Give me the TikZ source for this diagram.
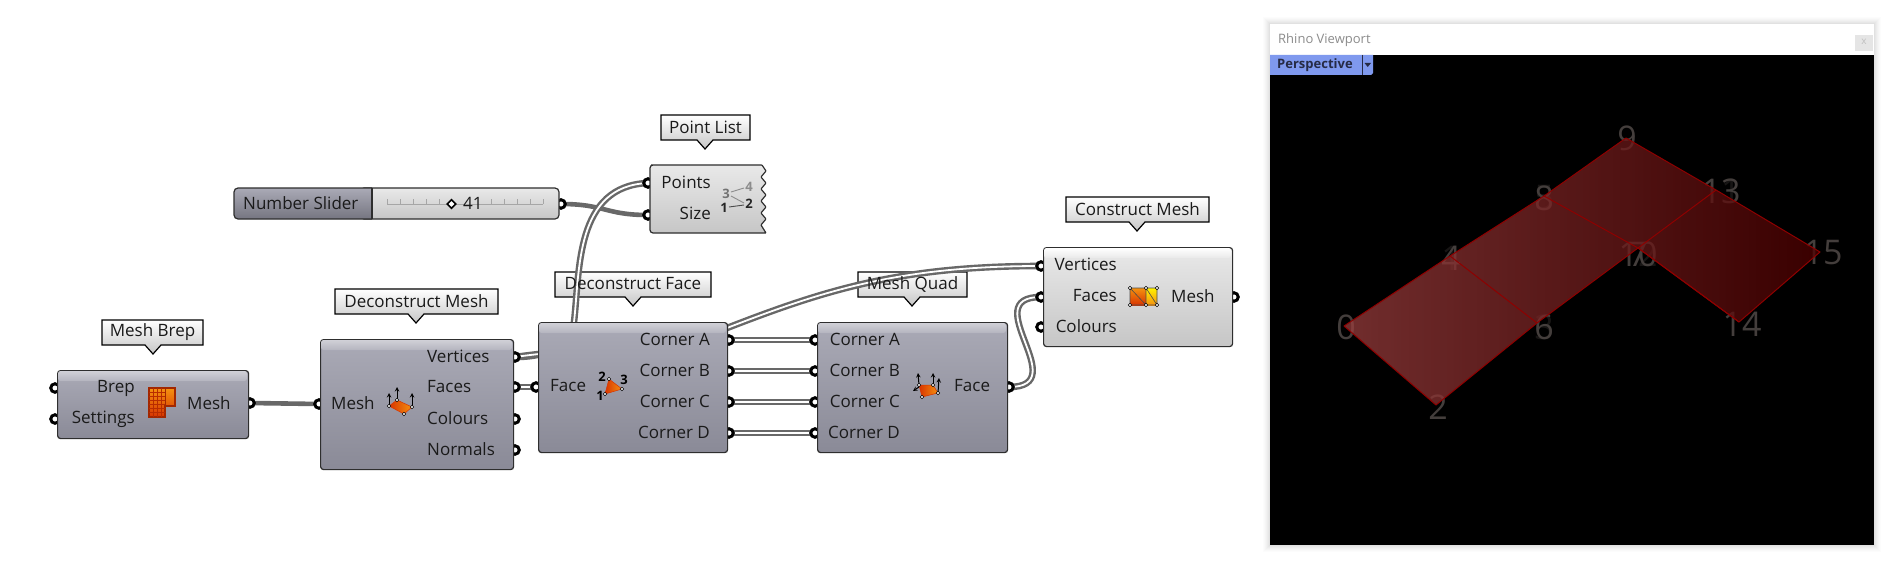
\documentclass[tikz,border=0pt]{standalone}
\usepackage{fontspec}
\setmainfont{Open Sans}
\usetikzlibrary{shapes.geometric}
\definecolor{wirec}{HTML}{686868}
\definecolor{edgec}{HTML}{2E2E2E}
\definecolor{tagtxt}{HTML}{1A1A1A}
\definecolor{A1}{HTML}{AAAAB6}
\definecolor{A2}{HTML}{8A8A97}
\definecolor{B1}{HTML}{E9E9E9}
\definecolor{B2}{HTML}{C6C6C6}
\definecolor{numc}{HTML}{443E3C}
\definecolor{iconA}{HTML}{F59210}
\definecolor{iconB}{HTML}{D83400}
\definecolor{tabc}{HTML}{7F99EE}
\definecolor{tabt}{HTML}{262B45}
\definecolor{meshA}{HTML}{9D3F3F}
\definecolor{meshB}{HTML}{500000}
\definecolor{meshE}{HTML}{8E0000}
\tikzset{
 x=1pt,y=-1pt,
 wirelist/.style={draw=wirec,line width=2.4pt,double=white,double distance=1.8pt},
 wireitem/.style={draw=wirec,line width=4.6pt},
 portc/.style={circle,draw=black,fill=white,line width=3pt,minimum size=8.5pt,inner sep=0pt},
 lab/.style={font=\fontsize{17}{17}\selectfont,text=tagtxt,inner sep=0pt},
 labr/.style={lab,anchor=east},
 labl/.style={lab,anchor=west},
 dark/.style={top color=A1,bottom color=A2},
 light/.style={top color=B1,bottom color=B2},
 body/.style={rectangle,rounded corners=3pt,draw=edgec,line width=1.2pt,inner sep=0pt,anchor=north west},
 vert/.style={circle,draw=black,fill=white,line width=.5pt,inner sep=0pt,minimum size=3.4pt},
 num/.style={font=\fontsize{34}{34}\selectfont,text=numc,inner sep=0pt},
 numunder/.style={num,text opacity=.35},
 icontxt/.style={font=\bfseries\fontsize{13}{13}\selectfont,inner sep=0pt},
}
% tag background: x1 x2 y1 y2 tip-x
\newcommand{\tagshape}[5]{%
 \path[draw=black,line width=1.2pt,top color=white,bottom color=B1!85!black]
  (#1,#3) -- (#2,#3) -- (#2,#4) -- (#5+8,#4) -- (#5,#4+9) -- (#5-8,#4) -- (#1,#4) -- cycle;}
% component body: x1 x2 y1 y2 name style
\newcommand{\compbox}[6]{%
 \pgfmathsetmacro{\wdt}{#2-#1}\pgfmathsetmacro{\hgt}{#4-#3}%
 \node[body,#6,minimum width=\wdt pt,minimum height=\hgt pt] (#5) at (#1,#3) {};}
\newcommand{\compband}[4]{%
 \path[top color=#4!55!white,bottom color=#4!88!white,rounded corners=2.5pt]
  (#1+1,#3+11) -- (#1+1,#3+1) -- (#2-1,#3+1) -- (#2-1,#3+11) -- cycle;}
\begin{document}
\begin{tikzpicture}
\useasboundingbox (0,0) rectangle (1890,575);
\fill[white] (0,0) rectangle (1890,575);

% tags
\tagshape{102}{203}{320}{345}{153}
\tagshape{335}{498}{289}{314}{416}
\tagshape{555}{711}{272}{297}{633}
\tagshape{858}{967}{272}{297}{912}
\tagshape{1066}{1209}{197}{222}{1137}
\tagshape{661}{750}{115}{140}{705}

% port anchors
\coordinate (brepOut) at (250,403);
\coordinate (dmIn) at (319,404);
\coordinate (dmV) at (515,357);
\coordinate (dmF) at (515,387);
\coordinate (dfIn) at (536,387);
\coordinate (dfA) at (729,340);
\coordinate (dfB) at (729,371);
\coordinate (dfC) at (729,402);
\coordinate (dfD) at (729,433);
\coordinate (mqA) at (815,340);
\coordinate (mqB) at (815,371);
\coordinate (mqC) at (815,402);
\coordinate (mqD) at (815,433);
\coordinate (mqOut) at (1009,387);
\coordinate (cmV) at (1041,266);
\coordinate (cmF) at (1041,297);
\coordinate (slOut) at (561,204);
\coordinate (plP) at (648,183);
\coordinate (plS) at (648,215);

% wires
\draw[wireitem] (brepOut) -- (dmIn);
\draw[wireitem] (slOut) .. controls (605,204) and (605,215) .. (plS);
\draw[wirelist] (dmV) .. controls (550,357) and (570,345) .. (574,322) .. controls (580,270) and (575,186) .. (plP);
\draw[wirelist] (dmV) .. controls (600,345) and (660,352) .. (727,328) .. controls (825,290) and (900,266) .. (cmV);
\draw[wirelist] (dmF) -- (dfIn);
\draw[wirelist] (dfA) -- (mqA);
\draw[wirelist] (dfB) -- (mqB);
\draw[wirelist] (dfC) -- (mqC);
\draw[wirelist] (dfD) -- (mqD);
\draw[wirelist] (mqOut) .. controls (1075,387) and (975,297) .. (cmF);

% ports
\foreach \p in {brepOut,dmIn,dmV,dmF,dfIn,dfA,dfB,dfC,dfD,mqA,mqB,mqC,mqD,mqOut,cmV,cmF,slOut,plP,plS}
  \node[portc] at (\p) {};
\node[portc] (pBrep) at (55,388) {};
\node[portc] (pSet) at (55,419) {};
\node[portc] (pCol) at (515,419) {};
\node[portc] (pNor) at (515,450) {};
\node[portc] (pCc) at (1041,327) {};
\node[portc] (pCm) at (1234,297) {};

% component bodies
\compbox{57}{248}{370}{438}{brep}{dark}
\compband{57}{248}{370}{A1}
\compbox{320}{513}{339}{469}{dm}{dark}
\compband{320}{513}{339}{A1}
\compbox{538}{727}{322}{452}{df}{dark}
\compband{538}{727}{322}{A1}
\compbox{817}{1007}{322}{452}{mq}{dark}
\compband{817}{1007}{322}{A1}
\compbox{1043}{1232}{247}{346}{cm}{light}
\path[top color=white,bottom color=B1,rounded corners=2.5pt] (1044,258) -- (1044,248) -- (1231,248) -- (1231,258) -- cycle;

% point list with jagged right edge
\path[draw=edgec,line width=1.2pt,top color=B1,bottom color=B2,rounded corners=.6pt]
 (654,165) -- (762,165) -- (766,171) -- (761,177) -- (766,183) -- (761,189) -- (766,195) -- (761,201) -- (766,207) -- (761,213) -- (766,219) -- (761,225) -- (766,233) -- (654,233)
 [rounded corners=3pt] -- (650,233) -- (650,165) -- cycle;

% slider
\path[draw=edgec,line width=1.2pt,top color=B1,bottom color=B2,rounded corners=4pt] (360,188) -- (559,188) -- (559,219) -- (360,219) -- cycle;
\path[draw=edgec,line width=1.2pt,top color=A1,bottom color=A2!85!black,rounded corners=4pt] (372,188) -- (234,188) -- (234,219) -- (372,219);
\fill[A1!50!A2] (371,189) -- (373,189) -- (373,218) -- (371,218) -- cycle;
\draw[edgec,line width=1.2pt] (372,188) -- (372,219);
\draw[black!35,line width=.8pt] (387,204) -- (543,204);
\foreach \k in {387,400,413,426,439,491,504,517,530,543}
  \draw[black!35,line width=.8pt] (\k,199) -- (\k,204);
\node[diamond,draw=black,fill=white,line width=1.6pt,minimum size=9pt,inner sep=0pt] (knob) at (451.5,204) {};

% labels
\node[labr] (t1) at (135,388) {Brep};
\node[labr] (t2) at (135,419) {Settings};
\node[labl] (t3) at (187,403) {Mesh};
\node[labl] (t4) at (331,403) {Mesh};
\node[labl] (t5) at (427,356) {Vertices};
\node[labl] (t6) at (427,387) {Faces};
\node[labl] (t7) at (427,418) {Colours};
\node[labl] (t8) at (427,449) {Normals};
\node[labl] (t9) at (550,386) {Face};
\node[labr] (t10) at (710,339) {Corner A};
\node[labr] (t11) at (710,370) {Corner B};
\node[labr] (t12) at (710,401) {Corner C};
\node[labr] (t13) at (710,432) {Corner D};
\node[labr] (t14) at (900,339) {Corner A};
\node[labr] (t15) at (900,370) {Corner B};
\node[labr] (t16) at (900,401) {Corner C};
\node[labr] (t17) at (900,432) {Corner D};
\node[labl] (t18) at (954,386) {Face};
\node[labr] (t19) at (1117,264) {Vertices};
\node[labr] (t20) at (1117,296) {Faces};
\node[labr] (t21) at (1117,326) {Colours};
\node[labl] (t22) at (1171,296) {Mesh};
\node[labr] (t23) at (711,182) {Points};
\node[labr] (t24) at (711,213) {Size};
\node[labl] (t25) at (243,203) {Number Slider};
\node[labl] (t26) at (463,203) {41};
% tag texts
\node[lab] (a1) at (152.5,332) {Mesh Brep};
\node[lab] (a2) at (416.5,301) {Deconstruct Mesh};
\node[lab] (a3) at (633,284) {Deconstruct Face};
\node[lab] (a4) at (912.5,284) {Mesh Quad};
\node[lab] (a5) at (1137.5,209) {Construct Mesh};
\node[lab] (a6) at (705.5,127) {Point List};

% icon mesh brep
\path[draw=iconB!75!black,line width=1.2pt,top color=iconA,bottom color=iconB]
 (149,388) -- (175,388) -- (175,406) -- (165,406) -- (165,417) -- (149,417) -- cycle;
\foreach \k in {153,157,161} \draw[iconB!85!black,line width=.5pt] (\k,388) -- (\k,417);
\foreach \k in {392,396,400,404,408,412} \draw[iconB!85!black,line width=.5pt] (149,\k) -- (165,\k);
\draw[iconB!75!black,line width=.8pt] (165,388) -- (165,406);
% icon deconstruct mesh
\draw[black,line width=1pt,-stealth] (397,400) -- (397,387);
\draw[black,line width=1pt,-stealth] (412,407) -- (412,393);
\draw[black,line width=1pt,-stealth] (389,406) -- (389,393);
\path[draw=iconB,line width=.5pt,left color=iconB,right color=iconA] (389,406) -- (397,400) -- (412,407) -- (404,414) -- cycle;
\foreach \c in {(389,406),(397,400),(412,407),(404,414)} \node[vert] at \c {};
% icon deconstruct face
\path[draw=iconB,line width=.5pt,left color=iconB,right color=iconA] (605,394) -- (609,379) -- (622,389) -- cycle;
\foreach \c in {(605,394),(609,379),(622,389)} \node[vert] at \c {};
\node[icontxt] (f1) at (600,396) {1};
\node[icontxt] (f2) at (602,377) {2};
\node[icontxt] (f3) at (624,380) {3};
% icon mesh quad
\draw[black,line width=1pt,-stealth] (919,385) -- (918,373);
\draw[black,line width=1pt,-stealth] (933,385) -- (933,373);
\draw[black,line width=1pt,-stealth] (938,393) -- (939,378);
\draw[black,line width=1pt,-stealth] (919,387) -- (913,391);
\path[draw=iconB,line width=.5pt,left color=iconB,right color=iconA] (919,385) -- (933,385) -- (938,393) -- (922,397) -- cycle;
\foreach \c in {(919,385),(933,385),(938,393),(922,397)} \node[vert] at \c {};
% icon construct mesh
\path[top color=iconA,bottom color=iconB] (1130,288) rectangle (1146,305);
\path[top color=yellow!90!orange,bottom color=iconA] (1146,288) rectangle (1157,305);
\draw[black!70,line width=.6pt] (1130,288) rectangle (1157,305) (1146,288) -- (1146,305) (1130,288) -- (1146,305) (1146,288) -- (1157,305);
\foreach \c in {(1130,288),(1146,288),(1157,288),(1130,305),(1146,305),(1157,305)} \node[vert] at \c {};
% icon point list
\draw[black!45,line width=.9pt] (731,192) -- (744,188) (731,196) -- (744,203);
\draw[black!70,line width=.9pt] (729,207) -- (744,205);
\node[icontxt,text=black!55] (l3) at (726,194) {3};
\node[icontxt,text=black!45] (l4) at (749,187) {4};
\node[icontxt,text=black!85] (l2) at (749,204) {2};
\node[icontxt,text=black!85] (l1) at (724,208) {1};

% viewport
\foreach \k/\o in {7/.012,6/.012,5/.015,4/.015,3/.02,2/.02,1/.025}
  \fill[black,opacity=\o] (1270-\k,24-\k) rectangle (1874+\k,545+\k);
\fill[white] (1270,24) rectangle (1874,55);
\fill[black] (1270,55) rectangle (1874,545);
\node[anchor=west,inner sep=0pt,font=\fontsize{13}{13}\selectfont,text=black!45] (rv) at (1278,40) {Rhino Viewport};
\fill[black!10] (1855,35) rectangle (1873,51);
\node[inner sep=0pt,font=\fontsize{10}{10}\selectfont,text=black!25] (rx) at (1864,42) {x};
\path[fill=tabc] (1270,55) -- (1373,55) -- (1373,73) -- (1371,75) -- (1270,75) -- cycle;
\node[anchor=west,inner sep=0pt,font=\bfseries\fontsize{13}{13}\selectfont,text=tabt] (persp) at (1277,65.5) {Perspective};
\draw[tabt,line width=.8pt] (1362.5,55) -- (1362.5,75);
\fill[tabt] (1364.5,63) -- (1371,63) -- (1367.7,67) -- cycle;

% vertex labels lie under the translucent mesh
\node[num] (n0) at (1346,327) {0};
\node[numunder] (n1) at (1451,258) {1};
\node[num] (n4) at (1451,258) {4};
\node[num] (n2) at (1438,407) {2};
\node[numunder] (n3) at (1544,327) {3};
\node[num] (n6) at (1544,327) {6};
\node[numunder] (n5) at (1544,198) {5};
\node[num] (n8) at (1544,198) {8};
\node[num] (n9) at (1627,138) {9};
\node[num] (n7) at (1638,254) {7};
\node[num] (n10) at (1638,254) {10};
\node[numunder] (n12) at (1638,254) {12};
\node[numunder] (n11) at (1721,191) {11};
\node[num] (n13) at (1721,191) {13};
\node[num] (n14) at (1742,324) {14};
\node[num] (n15) at (1823,253) {15};

% mesh
\coordinate (v0) at (1344,326);
\coordinate (v2) at (1436,405);
\coordinate (v4) at (1450,256);
\coordinate (v6) at (1537,323);
\coordinate (v8) at (1544,196);
\coordinate (v9) at (1626,138);
\coordinate (v10) at (1638,248);
\coordinate (v13) at (1716,190);
\coordinate (v14) at (1739,322);
\coordinate (v15) at (1820,252);
\begin{scope}[opacity=.72,transparency group]
\clip (v0) -- (v4) -- (v8) -- (v9) -- (v13) -- (v15) -- (v14) -- (v10) -- (v6) -- (v2) -- cycle;
\shade[left color=meshA,right color=meshB] (1344,130) rectangle (1820,410);
\end{scope}
\draw[meshE,line width=1pt,line join=round] (v0) -- (v4) -- (v8) -- (v9) -- (v13) -- (v15) -- (v14) -- (v10) -- (v6) -- (v2) -- cycle;
\draw[meshE,line width=1pt] (v4) -- (v6) (v8) -- (v10) -- (v14) (v13) -- (v10);
\end{tikzpicture}
\end{document}
